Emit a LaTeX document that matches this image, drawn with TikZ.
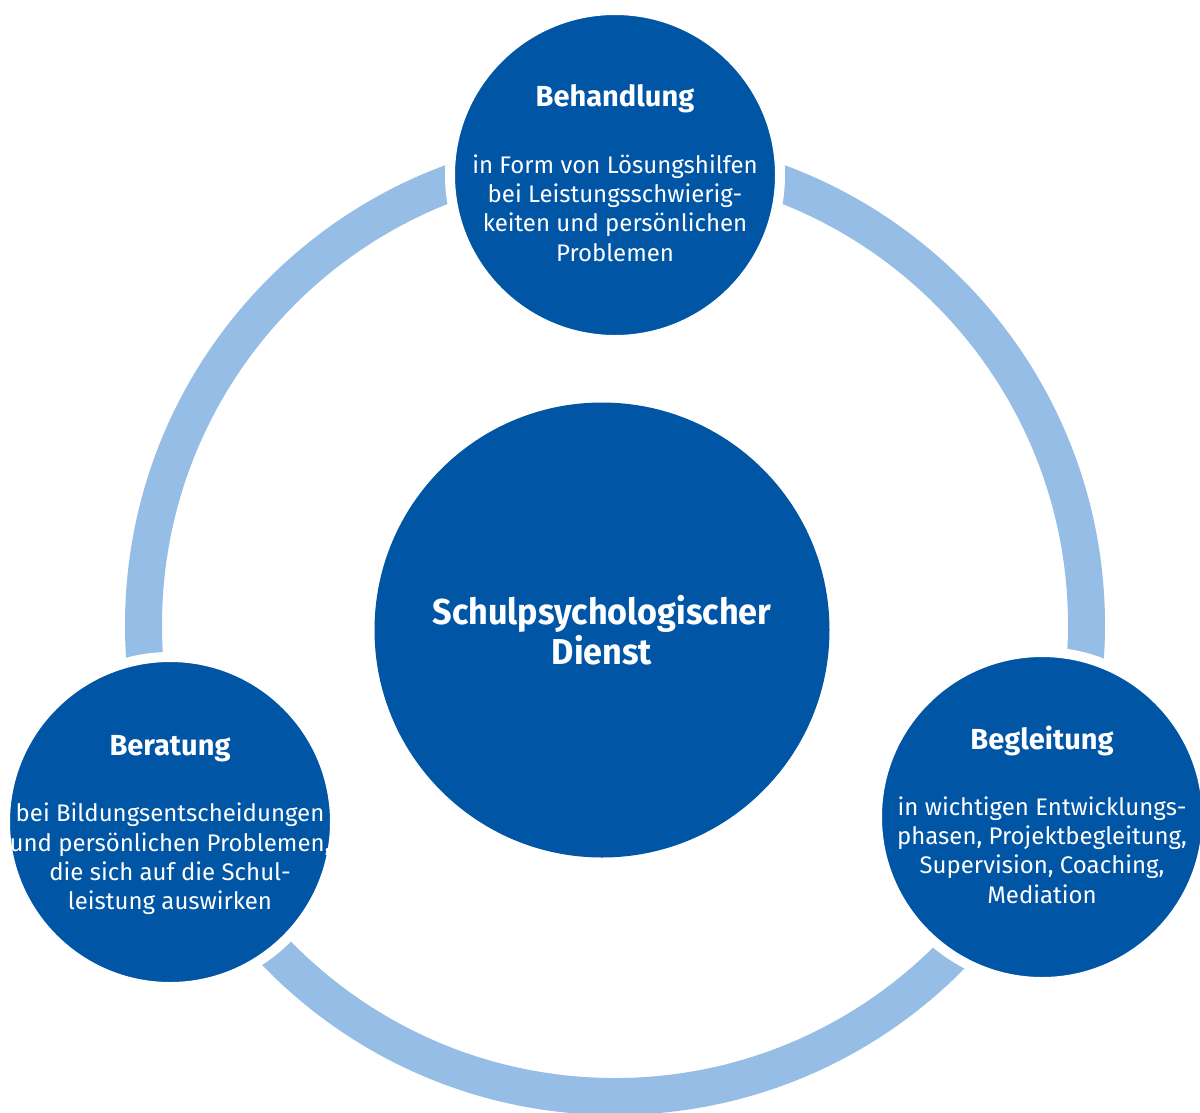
\documentclass[tikz,border=0pt]{standalone}
\usepackage{fontspec}
\setmainfont{Fira Sans}
\newfontfamily\centerfont{Fira Sans}[FakeStretch=0.95]
\definecolor{darkblue}{RGB}{0,85,165}
\definecolor{ringblue}{RGB}{149,189,229}
\begin{document}
\begin{tikzpicture}[x=1pt,y=-1pt,
  bigdisc/.style={circle,fill=darkblue,draw=white,line width=10pt,minimum size=#1,inner sep=0pt},
  headtxt/.style={text=white,align=center,inner sep=0pt,font=\fontsize{29}{34}\selectfont\bfseries},
  bodytxt/.style={text=white,align=center,inner sep=0pt,font=\fontsize{24}{29.4}\selectfont},
  centertxt/.style={text=white,align=center,inner sep=0pt,font=\centerfont\fontsize{36}{40}\selectfont\bfseries}]
\useasboundingbox (0,0) rectangle (1200,1112);
\coordinate (ringc) at (615,625);
\draw[ringblue,line width=37pt] (ringc) circle[radius=471.5];
\node[bigdisc=330pt] (top) at (615,175) {};
\node[bigdisc=330pt] (left) at (170,822) {};
\node[bigdisc=330pt] (right) at (1042,817) {};
\node[circle,fill=darkblue,minimum size=455pt,inner sep=0pt] (mid) at (602,630) {};
\node[centertxt] (midt) at (mid.center) {Schulpsychologischer\\Dienst};
\node[headtxt,yshift=76pt] (topt) at (top.center) {Behandlung};
\node[bodytxt,yshift=-33pt] (topb) at (top.center) {in Form von Lösungshilfen\\bei Leistungsschwierig-\\keiten und persönlichen\\Problemen};
\node[headtxt,yshift=73pt] (leftt) at (left.center) {Beratung};
\node[bodytxt,yshift=-37pt] (leftb) at (left.center) {bei Bildungsentscheidungen\\und persönlichen Problemen,\\die sich auf die Schul-\\leistung auswirken};
\node[headtxt,yshift=76pt] (rightt) at (right.center) {Begleitung};
\node[bodytxt,yshift=-33pt] (rightb) at (right.center) {in wichtigen Entwicklungs-\\phasen, Projektbegleitung,\\Supervision, Coaching,\\Mediation};
\end{tikzpicture}
\end{document}
